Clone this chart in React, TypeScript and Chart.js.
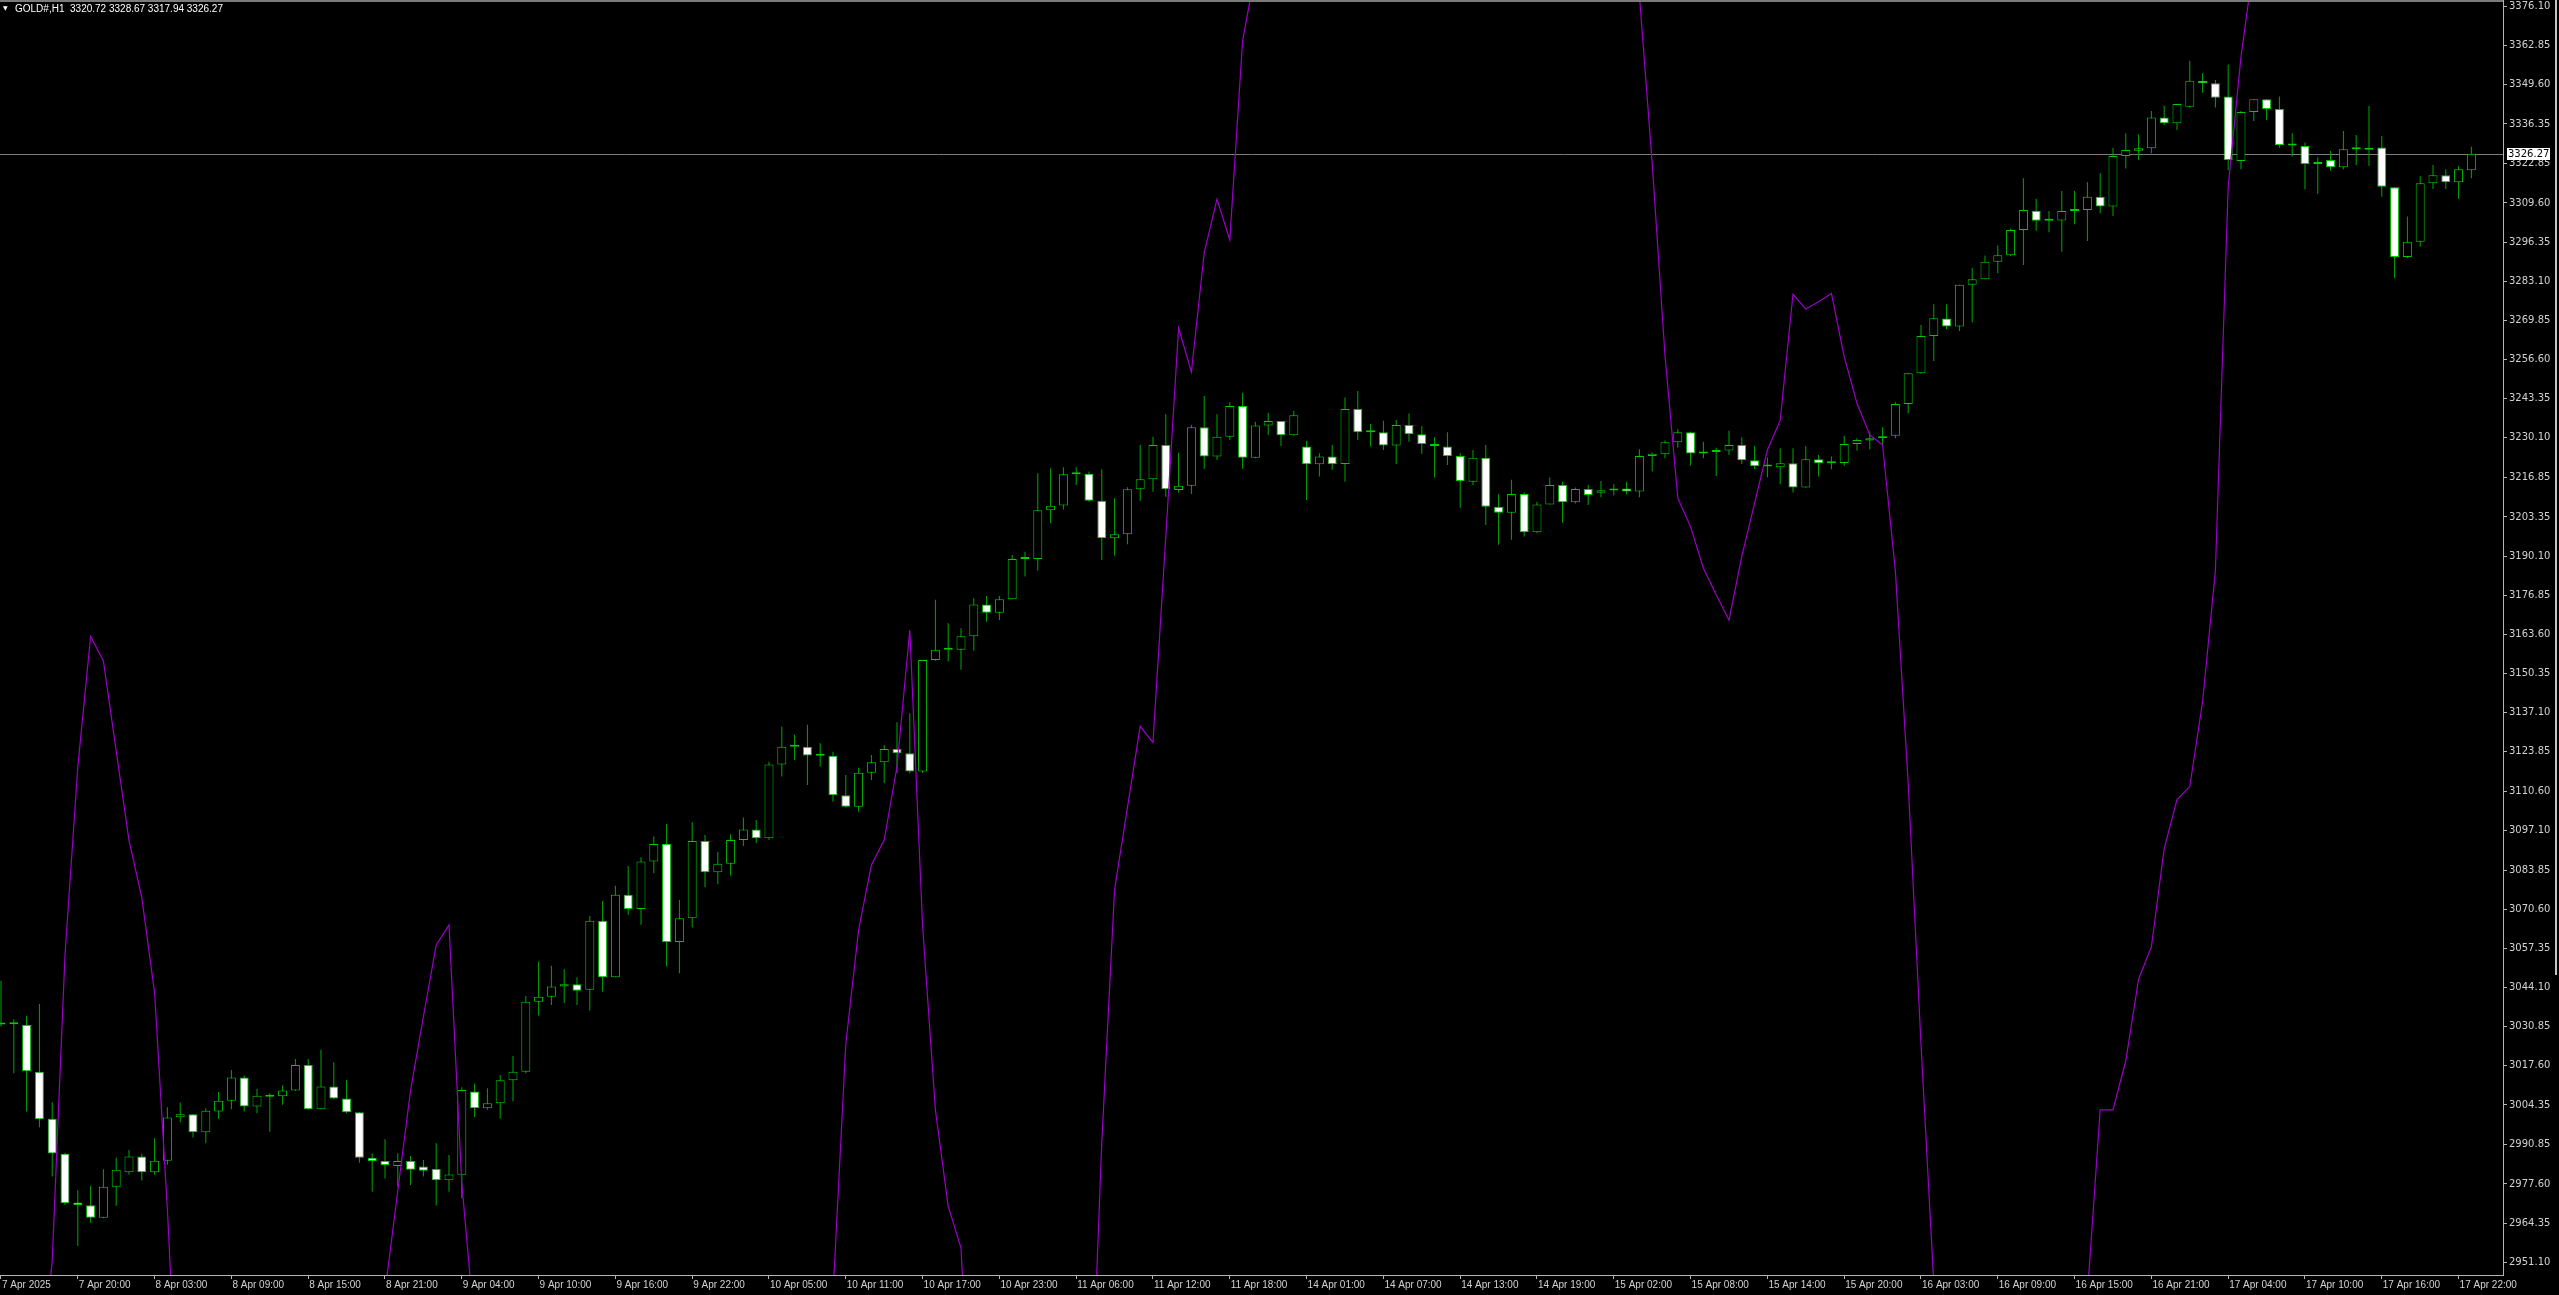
import React, { useEffect, useRef } from "react";
import { Chart, registerables } from "chart.js";

Chart.register(...registerables);

const symbolName = "GOLD#,H1";

const opens = [
  3031.6, 3031.7, 3031.4, 3015.6, 2999.7, 2987.8, 2971.3, 2970.4, 2966.2, 2976.7,
  2981.6, 2986.9, 2981.6, 2985.5, 3000.2, 3001.2, 2995.1, 3002.1, 3005.8, 3013.6,
  3003.8, 3007.7, 3007.3, 3009.2, 3017.9, 3002.9, 3010.6, 3006.5, 3001.9, 2986.5,
  2985.4, 2983.7, 2985.4, 2983.5, 2982.7, 2978.9, 2980.7, 3008.9, 3003.2, 3004.9,
  3012.7, 3015.6, 3039.3, 3041.0, 3044.4, 3045.2, 3043.3, 3066.7, 3047.6, 3075.5,
  3070.7, 3086.7, 3092.7, 3059.5, 3067.5, 3093.7, 3083.1, 3086.0, 3094.0, 3097.6,
  3094.6, 3119.6, 3125.6, 3125.6, 3122.6, 3122.5, 3109.2, 3105.3, 3116.8, 3120.3,
  3124.8, 3123.4, 3117.2, 3154.9, 3158.4, 3158.4, 3163.0, 3173.7, 3170.9, 3175.5,
  3189.1, 3189.1, 3205.6, 3207.2, 3217.8, 3218.0, 3208.8, 3196.1, 3197.5, 3212.7,
  3216.1, 3227.7, 3212.5, 3213.9, 3233.7, 3223.8, 3230.5, 3240.9, 3223.4, 3234.3,
  3235.8, 3231.0, 3227.2, 3221.2, 3223.8, 3221.3, 3239.9, 3232.7, 3232.0, 3227.5,
  3234.5, 3231.3, 3228.05, 3227.2, 3224.0, 3215.3, 3223.4, 3206.8, 3204.8, 3211.1,
  3198.2, 3207.6, 3214.2, 3208.3, 3212.8, 3211.5, 3212.3, 3213.0, 3212.0, 3224.0,
  3224.6, 3228.6, 3232.0, 3224.8, 3225.3, 3225.8, 3227.7, 3222.5, 3220.5, 3220.2,
  3221.5, 3213.3, 3222.9, 3221.5, 3221.6, 3228.05, 3229.2, 3230.0, 3230.8, 3241.6,
  3252.0, 3264.6, 3270.5, 3267.8, 3281.9, 3283.8, 3289.75, 3291.9, 3300.5, 3307.0,
  3303.6, 3303.7, 3306.9, 3307.2, 3311.75, 3308.4, 3325.5, 3327.3, 3328.1, 3338.5,
  3336.6, 3342.2, 3351.0, 3350.1, 3345.6, 3323.8, 3340.4, 3344.7, 3341.4, 3329.2,
  3328.9, 3322.8, 3324.15, 3321.7, 3327.8, 3327.6, 3328.4, 3314.9, 3291.3, 3296.5,
  3316.25, 3319.0, 3316.6, 3320.72,
];

const highs = [
  3046.4, 3033.35, 3034.5, 3038.5, 3005.3, 2988.2, 2975.6, 2977.0, 2982.6, 2986.5,
  2989.1, 2987.8, 2993.1, 3003.6, 3005.2, 3001.2, 3003.2, 3008.7, 3016.2, 3014.2,
  3009.8, 3008.3, 3010.9, 3019.9, 3019.9, 3023.0, 3018.8, 3012.8, 3001.9, 2988.0,
  2992.7, 2988.0, 2987.1, 2985.7, 2991.4, 2987.4, 3010.3, 3011.5, 3010.0, 3014.5,
  3020.9, 3041.2, 3052.9, 3051.5, 3050.3, 3047.6, 3068.3, 3073.4, 3078.5, 3085.2,
  3088.2, 3095.2, 3099.4, 3073.7, 3100.0, 3095.7, 3090.0, 3096.0, 3101.6, 3100.8,
  3120.5, 3132.4, 3129.6, 3133.0, 3126.8, 3123.9, 3116.0, 3118.5, 3122.8, 3126.2,
  3133.9, 3136.9, 3154.9, 3175.3, 3167.4, 3165.7, 3175.8, 3176.6, 3176.6, 3190.5,
  3191.6, 3218.1, 3219.8, 3220.2, 3220.2, 3218.7, 3219.5, 3209.7, 3213.4, 3227.7,
  3230.5, 3238.1, 3225.1, 3234.5, 3244.3, 3238.1, 3242.2, 3245.4, 3235.6, 3238.6,
  3235.8, 3239.2, 3229.1, 3224.9, 3227.7, 3243.8, 3246.0, 3234.8, 3235.9, 3236.2,
  3238.4, 3234.1, 3230.3, 3232.0, 3224.9, 3226.0, 3227.7, 3211.0, 3215.9, 3211.6,
  3208.5, 3216.7, 3215.3, 3213.3, 3214.2, 3215.5, 3214.4, 3215.3, 3226.3, 3225.2,
  3229.2, 3233.0, 3232.2, 3228.8, 3226.8, 3232.5, 3230.3, 3227.4, 3223.5, 3226.6,
  3226.6, 3227.4, 3224.3, 3223.8, 3230.8, 3230.0, 3232.0, 3233.7, 3242.15, 3252.0,
  3268.3, 3275.3, 3275.3, 3281.9, 3287.7, 3291.8, 3295.2, 3301.0, 3318.0, 3311.0,
  3306.9, 3313.7, 3313.7, 3316.6, 3319.65, 3328.3, 3333.2, 3332.8, 3340.7, 3342.5,
  3343.1, 3357.7, 3353.5, 3351.2, 3356.5, 3340.7, 3344.7, 3344.7, 3345.6, 3333.2,
  3330.1, 3325.05, 3327.2, 3334.0, 3332.6, 3342.4, 3332.3, 3314.9, 3305.0, 3318.7,
  3322.5, 3321.0, 3322.1, 3328.67,
];

const lows = [
  3030.9, 3015.1, 3002.1, 2996.8, 2980.1, 2970.5, 2956.6, 2964.5, 2966.0, 2970.2,
  2980.7, 2978.8, 2980.7, 2984.1, 2998.5, 2993.3, 2991.4, 2999.6, 3002.9, 3002.1,
  3001.5, 2995.3, 3004.4, 3009.1, 3002.7, 3002.9, 3006.3, 3001.5, 2984.8, 2975.0,
  2979.5, 2976.7, 2977.3, 2980.1, 2970.3, 2975.0, 2972.8, 3000.2, 3002.7, 2999.8,
  3005.5, 3015.1, 3034.6, 3038.2, 3038.8, 3038.2, 3036.3, 3042.7, 3047.6, 3068.7,
  3065.3, 3082.8, 3051.2, 3048.9, 3064.4, 3078.0, 3079.0, 3082.0, 3092.0, 3093.0,
  3094.0, 3115.5, 3121.1, 3112.6, 3118.9, 3107.0, 3105.0, 3103.6, 3114.3, 3113.2,
  3116.6, 3116.6, 3116.8, 3154.7, 3154.4, 3151.6, 3158.1, 3167.9, 3168.5, 3175.5,
  3183.2, 3185.2, 3201.2, 3205.9, 3214.2, 3208.5, 3188.8, 3190.2, 3194.1, 3208.8,
  3211.9, 3210.2, 3211.6, 3211.1, 3219.7, 3222.6, 3229.4, 3219.7, 3223.2, 3231.1,
  3227.4, 3230.8, 3209.1, 3217.0, 3219.3, 3215.3, 3229.4, 3227.2, 3226.0, 3221.3,
  3228.8, 3224.7, 3216.7, 3220.9, 3206.5, 3214.2, 3200.6, 3193.9, 3195.6, 3196.7,
  3197.8, 3207.6, 3201.4, 3207.9, 3207.4, 3210.0, 3210.6, 3211.0, 3210.0, 3218.7,
  3223.2, 3226.8, 3220.8, 3223.2, 3217.2, 3224.3, 3221.3, 3219.6, 3216.8, 3214.4,
  3211.6, 3213.3, 3217.0, 3219.5, 3220.6, 3225.8, 3226.2, 3227.7, 3230.0, 3238.4,
  3251.8, 3256.1, 3266.9, 3266.3, 3269.2, 3283.8, 3285.8, 3291.7, 3288.6, 3300.2,
  3299.7, 3293.1, 3302.4, 3296.75, 3306.1, 3305.2, 3321.3, 3324.15, 3326.4, 3336.0,
  3334.3, 3341.9, 3346.9, 3341.9, 3320.8, 3321.0, 3337.35, 3337.7, 3328.3, 3325.3,
  3314.2, 3312.65, 3320.5, 3321.0, 3322.5, 3322.1, 3311.7, 3284.1, 3290.9, 3294.8,
  3314.3, 3314.3, 3311.0, 3317.94,
];

const closes = [
  3031.9, 3031.9, 3015.75, 2999.5, 2987.9, 2971.1, 2970.5, 2966.2, 2976.7, 2982.4,
  2986.9, 2981.6, 2985.5, 3000.1, 3001.2, 2995.1, 3002.4, 3005.8, 3013.6, 3003.8,
  3007.5, 3007.1, 3009.2, 3017.9, 3002.9, 3010.6, 3006.5, 3001.9, 2986.5, 2985.4,
  2984.05, 2985.4, 2982.4, 2982.1, 2978.9, 2980.8, 3009.4, 3003.2, 3004.9, 3012.7,
  3015.6, 3039.3, 3041.0, 3044.4, 3045.2, 3043.0, 3066.7, 3047.6, 3075.5, 3070.7,
  3086.7, 3092.7, 3059.5, 3067.5, 3093.7, 3083.1, 3086.0, 3094.0, 3097.6, 3094.6,
  3119.6, 3125.6, 3125.7, 3122.6, 3122.5, 3109.2, 3105.3, 3116.8, 3120.3, 3124.8,
  3123.4, 3117.2, 3154.9, 3158.4, 3158.5, 3163.0, 3173.7, 3170.9, 3175.5, 3189.1,
  3189.2, 3205.6, 3207.1, 3217.8, 3218.0, 3208.8, 3196.1, 3197.5, 3212.7, 3216.1,
  3227.7, 3212.7, 3213.9, 3233.7, 3223.8, 3230.5, 3240.9, 3223.4, 3234.3, 3235.8,
  3231.0, 3237.8, 3221.2, 3223.8, 3221.3, 3239.9, 3232.0, 3232.0, 3227.5, 3234.5,
  3231.3, 3228.05, 3227.4, 3224.0, 3215.5, 3223.4, 3206.8, 3204.8, 3211.1, 3198.2,
  3207.6, 3214.2, 3208.3, 3212.8, 3210.8, 3212.4, 3212.9, 3212.0, 3224.0, 3224.7,
  3228.6, 3232.0, 3224.8, 3225.3, 3225.9, 3227.7, 3222.5, 3220.5, 3220.4, 3221.5,
  3213.3, 3222.9, 3221.5, 3221.6, 3228.05, 3229.4, 3230.0, 3230.1, 3241.6, 3252.0,
  3264.6, 3270.6, 3267.8, 3281.9, 3283.8, 3289.75, 3291.9, 3300.5, 3307.2, 3303.6,
  3303.7, 3306.9, 3307.5, 3311.75, 3308.4, 3325.5, 3327.5, 3328.1, 3338.5, 3336.6,
  3343.1, 3351.0, 3350.1, 3345.25, 3324.15, 3340.4, 3344.7, 3341.4, 3329.2, 3329.1,
  3322.8, 3323.0, 3321.7, 3327.8, 3327.9, 3328.1, 3315.1, 3291.3, 3296.5, 3316.25,
  3318.96, 3316.6, 3321.0, 3326.27,
];

// indicator line (drawn on the price scale; values outside the visible range run off-chart)
const indicator = [
  2780, 2790, 2820, 2905, 2951.5, 3055.1, 3118.7, 3162.9, 3154.6, 3124.2,
  3093.9, 3074.5, 3042.3, 2969.0, 2880, 2840, 2815, 2800, 2790, 2785,
  2790, 2800, 2810, 2820, 2830, 2835, 2845, 2860, 2880, 2900,
  2941, 2975.3, 3009.4, 3034.2, 3058.5, 3065.3, 2977.9, 2929, 2880, 2850,
  2830, 2810, 2800, 2790, 2785, 2780, 2780, 2785, 2790, 2795,
  2800, 2805, 2810, 2815, 2820, 2825, 2830, 2835, 2840, 2850,
  2860, 2870, 2880, 2895, 2910, 2940, 3025, 3063.6, 3085.6, 3094.0,
  3118.8, 3165.1, 3065, 3002.7, 2970, 2956, 2870, 2840, 2820, 2805,
  2800, 2805, 2815, 2830, 2850, 2879, 2991.7, 3077.3, 3104.9, 3132.5,
  3127.0, 3196.7, 3267.3, 3252.4, 3292.7, 3310.9, 3297.1, 3364.5, 3388, 3410,
  3430, 3445, 3455, 3460, 3465, 3470, 3472, 3474, 3475, 3475,
  3474, 3472, 3470, 3468, 3465, 3460, 3455, 3450, 3445, 3440,
  3435, 3430, 3425, 3420, 3415, 3410, 3405, 3398, 3380, 3323.1,
  3258, 3209.8, 3200, 3186, 3177, 3168.4, 3190, 3208, 3226, 3236,
  3278.7, 3273.7, 3276.2, 3279.0, 3257.6, 3241.8, 3231.1, 3227.7, 3185, 3113.3,
  3025, 2944, 2850, 2820, 2800, 2790, 2785, 2790, 2800, 2815,
  2835, 2860, 2895, 2940, 3002.7, 3002.7, 3019.3, 3046.9, 3057.9, 3091.1,
  3107.7, 3112.1, 3140.8, 3185, 3315, 3359.1, 3391, 3420, 3440, 3455,
  3465, 3470, 3475, 3478, 3480, 3480, 3478, 3475, 3472, 3470,
  3468, 3466, 3465, 3464,
];

const xTickBars = [
  0, 6, 12, 18, 24, 30, 36, 42, 48, 54, 60, 66, 72, 78, 84, 90, 96,
  102, 108, 114, 120, 126, 132, 138, 144, 150, 156, 162, 168, 174, 180, 186, 192,
];
const xTickLabels = [
  "7 Apr 2025", "7 Apr 20:00", "8 Apr 03:00", "8 Apr 09:00", "8 Apr 15:00", "8 Apr 21:00",
  "9 Apr 04:00", "9 Apr 10:00", "9 Apr 16:00", "9 Apr 22:00", "10 Apr 05:00", "10 Apr 11:00",
  "10 Apr 17:00", "10 Apr 23:00", "11 Apr 06:00", "11 Apr 12:00", "11 Apr 18:00", "14 Apr 01:00",
  "14 Apr 07:00", "14 Apr 13:00", "14 Apr 19:00", "15 Apr 02:00", "15 Apr 08:00", "15 Apr 14:00",
  "15 Apr 20:00", "16 Apr 03:00", "16 Apr 09:00", "16 Apr 15:00", "16 Apr 21:00", "17 Apr 04:00",
  "17 Apr 10:00", "17 Apr 16:00", "17 Apr 22:00",
];
const yTickLabels = [
  "3376.10", "3362.85", "3349.60", "3336.35", "3322.85", "3309.60", "3296.35", "3283.10",
  "3269.85", "3256.60", "3243.35", "3230.10", "3216.85", "3203.35", "3190.10", "3176.85",
  "3163.60", "3150.35", "3137.10", "3123.85", "3110.60", "3097.10", "3083.85", "3070.60",
  "3057.35", "3044.10", "3030.85", "3017.60", "3004.35", "2990.85", "2977.60", "2964.35",
  "2951.10",
];

const Y_MIN = 2946.8;
const Y_MAX = 3378.3;
const X_MIN = -0.078;
const X_MAX = 195.47;

const WICK = "#00a800";
const EDGE = "#00cc00";
const MAGENTA = "#9a00c8";
const AXIS = "#b4b4b4";
const LABEL = "#d2d2d2";

export default function App() {
  const ref = useRef<HTMLCanvasElement | null>(null);

  useEffect(() => {
    document.body.style.margin = "0";
    document.body.style.background = "#000";
    document.body.style.overflow = "hidden";
    const canvas = ref.current;
    if (!canvas) return;

    const idx = closes.map((_, i) => i);
    const lastClose = closes[closes.length - 1];
    const yTickValues = yTickLabels.map((s) => parseFloat(s));

    const framePlugin = {
      id: "mtFrame",
      beforeDatasetsDraw(chart: any) {
        const { ctx, chartArea, scales } = chart;
        const y = Math.round(scales.y.getPixelForValue(lastClose)) + 0.5;
        ctx.save();
        ctx.strokeStyle = "#7c7c7c";
        ctx.lineWidth = 1;
        ctx.beginPath();
        ctx.moveTo(chartArea.left, y);
        ctx.lineTo(chartArea.right, y);
        ctx.stroke();
        ctx.restore();
      },
      afterDraw(chart: any) {
        const { ctx, chartArea, scales } = chart;
        ctx.save();
        ctx.fillStyle = "#7a7a7a";
        ctx.fillRect(chartArea.left, chartArea.top, chartArea.right - chartArea.left, 2);
        const y = Math.round(scales.y.getPixelForValue(lastClose));
        ctx.fillStyle = "#ffffff";
        ctx.fillRect(chartArea.right + 4, y - 6, 43, 12);
        ctx.fillStyle = "#000000";
        ctx.font = "10px 'DejaVu Sans'";
        ctx.textBaseline = "middle";
        ctx.textAlign = "left";
        ctx.fillText(lastClose.toFixed(2), chartArea.right + 5, y + 0.5);
        ctx.restore();
      },
    };

    const chart = new Chart(canvas, {
      type: "bar",
      data: {
        datasets: [
          {
            type: "line",
            label: "indicator",
            data: idx.map((i) => ({ x: i, y: indicator[i] })),
            borderColor: MAGENTA,
            borderWidth: 1.2,
            pointRadius: 0,
            tension: 0,
            order: 0,
          } as any,
          {
            type: "bar",
            label: "body",
            data: idx.map((i) => ({ x: i, y: [opens[i], closes[i]] })),
            backgroundColor: idx.map((i) => (closes[i] >= opens[i] ? "#000000" : "#ffffff")),
            borderColor: EDGE,
            borderWidth: 1,
            borderSkipped: false,
            maxBarThickness: 9,
            minBarLength: 2,
            grouped: false,
            order: 1,
          } as any,
          {
            type: "bar",
            label: "wick",
            data: idx.map((i) => ({ x: i, y: [lows[i], highs[i]] })),
            backgroundColor: WICK,
            borderWidth: 0,
            maxBarThickness: 1,
            grouped: false,
            order: 2,
          } as any,
        ],
      },
      options: {
        responsive: false,
        maintainAspectRatio: false,
        animation: false,
        devicePixelRatio: 1,
        events: [],
        layout: { padding: 0 },
        plugins: {
          legend: { display: false },
          tooltip: { enabled: false },
          title: { display: false },
        },
        scales: {
          x: {
            type: "linear",
            position: "bottom",
            min: X_MIN,
            max: X_MAX,
            offset: false,
            afterBuildTicks: (s: any) => {
              s.ticks = xTickBars.map((v) => ({ value: v }));
            },
            afterFit: (s: any) => {
              s.height = 20;
              s.paddingLeft = 0;
              s.paddingRight = 0;
            },
            ticks: {
              autoSkip: false,
              maxRotation: 0,
              minRotation: 0,
              align: "start",
              padding: 0,
              labelOffset: 1,
              color: LABEL,
              font: { family: "'Liberation Sans'", size: 10 },
              callback: (_v: any, i: number) => xTickLabels[i],
            },
            grid: { display: true, drawOnChartArea: false, drawTicks: true, tickLength: 4, color: AXIS, offset: false },
            border: { display: true, color: AXIS, width: 1 },
          } as any,
          y: {
            type: "linear",
            position: "right",
            min: Y_MIN,
            max: Y_MAX,
            beginAtZero: false,
            afterBuildTicks: (s: any) => {
              s.ticks = yTickValues.map((v) => ({ value: v }));
            },
            afterFit: (s: any) => {
              s.width = 56;
              s.paddingTop = 0;
              s.paddingBottom = 0;
            },
            ticks: {
              autoSkip: false,
              padding: 2,
              color: LABEL,
              font: { family: "'DejaVu Sans'", size: 10 },
              callback: (_v: any, i: number) => yTickLabels[i],
            },
            grid: { display: true, drawOnChartArea: false, drawTicks: true, tickLength: 4, color: AXIS },
            border: { display: true, color: AXIS, width: 1 },
          } as any,
        },
      },
      plugins: [framePlugin],
    } as any);

    return () => chart.destroy();
  }, []);

  const n = closes.length - 1;
  const header = `${symbolName}  ${opens[n].toFixed(2)} ${highs[n].toFixed(2)} ${lows[n].toFixed(2)} ${closes[n].toFixed(2)}`;

  return (
    <div style={{ position: "relative", width: 2559, height: 1295, background: "#000", overflow: "hidden" }}>
      <canvas ref={ref} width={2559} height={1295} style={{ display: "block", width: 2559, height: 1295 }} />
      <div
        style={{
          position: "absolute",
          left: 3,
          top: 4,
          color: "#ffffff",
          fontFamily: "'DejaVu Sans'",
          fontSize: 6,
          lineHeight: "8px",
          pointerEvents: "none",
        }}
      >
        ▼
      </div>
      <div
        style={{
          position: "absolute",
          left: 15,
          top: 3,
          color: "#ffffff",
          fontFamily: "'Liberation Sans', Arial, sans-serif",
          fontSize: 10,
          lineHeight: "12px",
          whiteSpace: "pre",
          pointerEvents: "none",
        }}
      >
        {header}
      </div>
      <div
        style={{
          position: "absolute",
          left: 2555,
          top: 0,
          width: 2,
          height: 975,
          background: "#c4c4c4",
          pointerEvents: "none",
        }}
      />
    </div>
  );
}
